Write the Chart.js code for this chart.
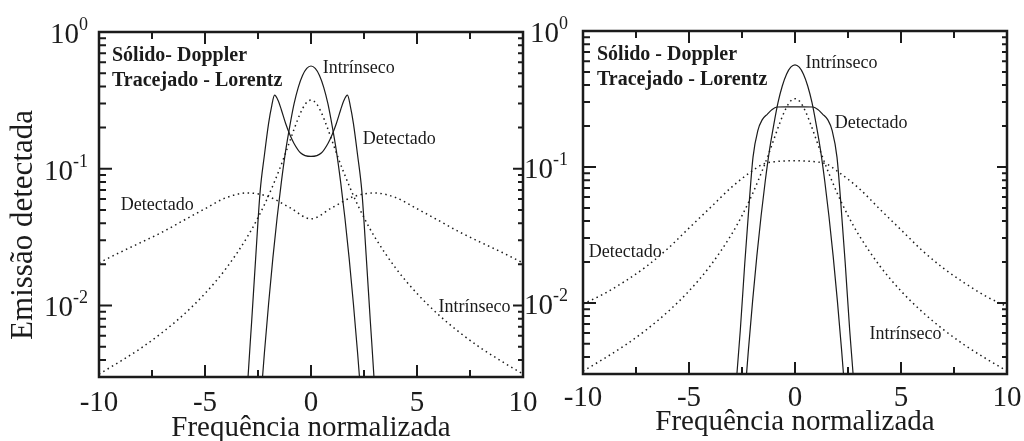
<!DOCTYPE html>
<html>
<head>
<meta charset="utf-8">
<script src="https://cdn.jsdelivr.net/npm/chart.js@4/dist/chart.umd.min.js"></script>
<style>
  html, body { margin: 0; padding: 0; background: #fff; }
  #wrap { position: relative; width: 1024px; height: 441px; overflow: hidden; }
  canvas { position: absolute; top: 0; }
  #left { left: 0; }
  #right { left: 520px; }
</style>
</head>
<body>
<div id="wrap">
  <canvas id="left" width="560" height="441"></canvas>
  <canvas id="right" width="504" height="441"></canvas>
</div>
<script>
// intrinsic profiles (same in both panels)
const xIntrinsecoDoppler = [-2.6, -2.4, -2.2, -2.0, -1.8, -1.6, -1.4, -1.2, -1.0, -0.8, -0.6, -0.4, -0.2, 0,
                            0.2, 0.4, 0.6, 0.8, 1.0, 1.2, 1.4, 1.6, 1.8, 2.0, 2.2, 2.4, 2.6];
const yIntrinsecoDoppler = [0.00065, 0.00178, 0.00446, 0.0103, 0.0221, 0.0436, 0.0795, 0.134, 0.205, 0.298, 0.394, 0.481, 0.542, 0.564,
                            0.542, 0.481, 0.394, 0.298, 0.205, 0.134, 0.0795, 0.0436, 0.0221, 0.0103, 0.00446, 0.00178, 0.00065];

const xIntrinsecoLorentz = [-10, -9, -8, -7, -6, -5, -4, -3, -2.5, -2, -1.5, -1.25, -1, -0.75, -0.5, -0.25, 0,
                            0.25, 0.5, 0.75, 1, 1.25, 1.5, 2, 2.5, 3, 4, 5, 6, 7, 8, 9, 10];
const yIntrinsecoLorentz = [0.00315, 0.0039, 0.0049, 0.00637, 0.0086, 0.01224, 0.01872, 0.0318, 0.0439, 0.0637, 0.0979, 0.124, 0.159, 0.204, 0.255, 0.300, 0.318,
                            0.300, 0.255, 0.204, 0.159, 0.124, 0.0979, 0.0637, 0.0439, 0.0318, 0.01872, 0.01224, 0.0086, 0.00637, 0.0049, 0.0039, 0.00315];

// left panel: detected profiles
const xDetectadoDopplerA = [-3.1, -2.97, -2.8, -2.6, -2.4, -2.2, -2.0, -1.85, -1.72, -1.55, -1.4, -1.2, -1.0, -0.8, -0.5, 0,
                            0.5, 0.8, 1.0, 1.2, 1.4, 1.55, 1.72, 1.85, 2.0, 2.2, 2.4, 2.6, 2.8, 2.97, 3.1];
const yDetectadoDopplerA = [0.0012, 0.003, 0.0076, 0.0235, 0.068, 0.125, 0.215, 0.29, 0.345, 0.315, 0.27, 0.215, 0.178, 0.153, 0.131, 0.123,
                            0.131, 0.153, 0.178, 0.215, 0.27, 0.315, 0.345, 0.29, 0.215, 0.125, 0.068, 0.0235, 0.0076, 0.003, 0.0012];

const xDetectadoLorentzA = [-10, -9, -8, -7, -6, -5, -4, -3, -2, -1, 0, 1, 2, 3, 4, 5, 6, 7, 8, 9, 10];
const yDetectadoLorentzA = [0.0205, 0.0245, 0.029, 0.0345, 0.042, 0.051, 0.0615, 0.0665, 0.0625, 0.052, 0.043,
                            0.052, 0.0625, 0.0665, 0.0615, 0.051, 0.042, 0.0345, 0.029, 0.0245, 0.0205];

// right panel: detected profiles
const xDetectadoDopplerB = [-2.9, -2.74, -2.58, -2.37, -2.14, -1.98, -1.75, -1.55, -1.3, -1.1, -0.85, -0.4, 0,
                            0.4, 0.85, 1.1, 1.3, 1.55, 1.75, 1.98, 2.14, 2.37, 2.58, 2.74, 2.9];
const yDetectadoDopplerB = [0.0013, 0.003, 0.0063, 0.0195, 0.060, 0.118, 0.186, 0.222, 0.245, 0.263, 0.276, 0.277, 0.277,
                            0.277, 0.276, 0.263, 0.245, 0.222, 0.186, 0.118, 0.060, 0.0195, 0.0063, 0.003, 0.0013];

const xDetectadoLorentzB = [-10, -9, -8, -7, -6, -5, -4, -3, -2, -1.5, -1, 0, 1, 1.5, 2, 3, 4, 5, 6, 7, 8, 9, 10];
const yDetectadoLorentzB = [0.0098, 0.0117, 0.0145, 0.0186, 0.0251, 0.0355, 0.0501, 0.0708, 0.094, 0.105, 0.109, 0.111,
                            0.109, 0.105, 0.093, 0.070, 0.049, 0.0345, 0.0243, 0.018, 0.014, 0.0112, 0.0094];

// axes
const xTicksMajor = [-10, -5, 0, 5, 10];
const xTicksMinor = [-7.5, -2.5, 2.5, 7.5];
const yDecades = [0, -1, -2];

const INK = '#1b1b1b';
const SERIF = '"Liberation Serif", "Times New Roman", serif';

const pts = (xs, ys) => xs.map((v, i) => ({ x: v, y: ys[i] }));

function solid(xs, ys) {
    return { data: pts(xs, ys), borderColor: INK, borderWidth: 1.2, pointRadius: 0, cubicInterpolationMode: 'monotone' };
}
function dotted(xs, ys) {
    return { data: pts(xs, ys), borderColor: INK, borderWidth: 1.5, borderDash: [1.5, 3.5], pointRadius: 0, cubicInterpolationMode: 'monotone' };
}

// frame, inward ticks, superscript tick labels and text notes
const framePlugin = {
    id: 'frame',
    afterDatasetsDraw(chart, args, opts) {
        const { ctx, chartArea: a, scales: { x, y } } = chart;
        ctx.save();
        ctx.strokeStyle = INK;
        ctx.fillStyle = INK;

        ctx.lineWidth = 2;
        ctx.beginPath();
        xTicksMajor.concat(xTicksMinor).forEach(v => {
            const len = xTicksMajor.includes(v) ? 12 : 7;
            const px = x.getPixelForValue(v);
            ctx.moveTo(px, a.bottom); ctx.lineTo(px, a.bottom - len);
            ctx.moveTo(px, a.top); ctx.lineTo(px, a.top + len);
        });
        for (let d = -3; d <= 0; d++) {
            for (let m = 1; m <= 9; m++) {
                const v = m * Math.pow(10, d);
                if (v < y.min * 0.999 || v > y.max * 1.001) continue;
                const len = m === 1 ? 13 : 7;
                const py = y.getPixelForValue(v);
                ctx.moveTo(a.left, py); ctx.lineTo(a.left + len, py);
                ctx.moveTo(a.right, py); ctx.lineTo(a.right - (m === 1 ? 10 : 5), py);
            }
        }
        ctx.stroke();

        ctx.lineWidth = 2.5;
        ctx.strokeRect(a.left, a.top, a.right - a.left, a.bottom - a.top);

        // 10^n labels
        ctx.textBaseline = 'alphabetic';
        ctx.textAlign = 'left';
        yDecades.forEach(d => {
            const py = y.getPixelForValue(Math.pow(10, d));
            const sup = String(d);
            ctx.font = '18px ' + SERIF;
            const sw = ctx.measureText(sup).width;
            ctx.font = '29px ' + SERIF;
            const bw = ctx.measureText('10').width;
            const right = a.left - opts.labelGap;
            ctx.fillText('10', right - sw - bw, py + 11);
            ctx.font = '18px ' + SERIF;
            ctx.fillText(sup, right - sw, py - 2);
        });

        // line-style key
        ctx.font = 'bold 20px ' + SERIF;
        opts.key.forEach((t, i) => ctx.fillText(t, a.left + opts.keyDx, opts.keyY + i * 25));

        // curve names
        ctx.font = '18px ' + SERIF;
        ctx.textBaseline = 'middle';
        opts.notes.forEach(n => ctx.fillText(n.text, x.getPixelForValue(n.x), y.getPixelForValue(n.y)));

        if (opts.yTitle) {
            ctx.translate(opts.yTitle.x, opts.yTitle.y);
            ctx.rotate(-Math.PI / 2);
            ctx.textAlign = 'center';
            ctx.font = '31px ' + SERIF;
            ctx.fillText(opts.yTitle.text, 0, 0);
        }
        ctx.restore();
    }
};

function makeChart(id, datasets, panel) {
    return new Chart(document.getElementById(id), {
        type: 'line',
        data: { datasets: datasets },
        plugins: [framePlugin],
        options: {
            responsive: false,
            animation: false,
            devicePixelRatio: 1,
            layout: { padding: panel.padding },
            plugins: { legend: { display: false }, tooltip: { enabled: false }, frame: panel.frame },
            scales: {
                x: {
                    type: 'linear', min: -10, max: 10,
                    grid: { display: false, drawTicks: false },
                    border: { display: false },
                    ticks: { stepSize: 5, padding: panel.tickPad, color: INK, font: { family: SERIF, size: 29 } },
                    title: { display: true, text: 'Frequência normalizada', color: INK,
                             font: { family: SERIF, size: 29, lineHeight: 0.85 }, padding: { top: 0, bottom: panel.titlePad } },
                    afterFit: s => {
                        s.height = panel.xHeight;
                        s.paddingLeft = 0;
                        s.paddingRight = 0;
                    }
                },
                y: {
                    type: 'logarithmic', min: 0.003, max: 1,
                    grid: { display: false, drawTicks: false },
                    border: { display: false },
                    ticks: { display: false },
                    afterFit: s => { s.width = panel.yWidth; }
                }
            }
        }
    });
}

makeChart('left', [
    solid(xIntrinsecoDoppler, yIntrinsecoDoppler),
    solid(xDetectadoDopplerA, yDetectadoDopplerA),
    dotted(xIntrinsecoLorentz, yIntrinsecoLorentz),
    dotted(xDetectadoLorentzA, yDetectadoLorentzA)
], {
    padding: { left: 0, right: 37, top: 32, bottom: 0 },
    yWidth: 99, xHeight: 64, tickPad: 9, titlePad: 0,
    frame: {
        labelGap: 11, keyDx: 13, keyY: 61,
        key: ['Sólido- Doppler', 'Tracejado - Lorentz'],
        notes: [
            { text: 'Intrínseco', x: 0.55, y: 0.543 },
            { text: 'Detectado', x: 2.44, y: 0.163 },
            { text: 'Detectado', x: -8.97, y: 0.054 },
            { text: 'Intrínseco', x: 6.02, y: 0.0097 }
        ],
        yTitle: { text: 'Emissão detectada', x: 24, y: 225 }
    }
});

makeChart('right', [
    solid(xIntrinsecoDoppler, yIntrinsecoDoppler),
    solid(xDetectadoDopplerB, yDetectadoDopplerB),
    dotted(xIntrinsecoLorentz, yIntrinsecoLorentz),
    dotted(xDetectadoLorentzB, yDetectadoLorentzB)
], {
    padding: { left: 0, right: 17, top: 31, bottom: 0 },
    yWidth: 63, xHeight: 67, tickPad: 7, titlePad: 6,
    frame: {
        labelGap: 15, keyDx: 14, keyY: 60,
        key: ['Sólido - Doppler', 'Tracejado - Lorentz'],
        notes: [
            { text: 'Intrínseco', x: 0.5, y: 0.579 },
            { text: 'Detectado', x: 1.87, y: 0.21 },
            { text: 'Detectado', x: -9.73, y: 0.0236 },
            { text: 'Intrínseco', x: 3.52, y: 0.0059 }
        ]
    }
});
</script>
</body>
</html>
